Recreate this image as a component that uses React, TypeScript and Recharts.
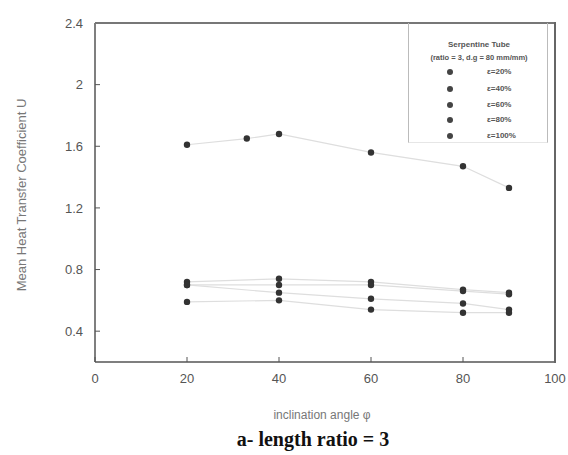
import React from "react";
import { ComposedChart, Scatter, XAxis, YAxis } from "recharts";

const angles = [20, 40, 60, 80, 90];
const s20 = [0.72, 0.74, 0.72, 0.67, 0.65];
const s40 = [0.7, 0.7, 0.7, 0.66, 0.64];
const s60 = [0.7, 0.65, 0.61, 0.58, 0.54];
const s80 = [0.59, 0.6, 0.54, 0.52, 0.52];
const upperAngles = [20, 33, 40, 60, 80, 90];
const s100 = [1.61, 1.65, 1.68, 1.56, 1.47, 1.33];

const xTicks = [0, 20, 40, 60, 80, 100];
const yTicks = [0.4, 0.8, 1.2, 1.6, 2, 2.4];
const legendLabels = ["ε=20%", "ε=40%", "ε=60%", "ε=80%", "ε=100%"];
const legendTitle = ["Serpentine Tube", "(ratio = 3, d.g = 80 mm/mm)"];

const toPts = (xs: number[], ys: number[]) => xs.map((x, i) => ({ x, y: ys[i] }));

const series = [
  { name: legendLabels[0], data: toPts(angles, s20) },
  { name: legendLabels[1], data: toPts(angles, s40) },
  { name: legendLabels[2], data: toPts(angles, s60) },
  { name: legendLabels[3], data: toPts(angles, s80) },
  { name: legendLabels[4], data: toPts(upperAngles, s100) },
];

const font = "'Liberation Sans', Arial, sans-serif";
const tickStyle = { fill: "#555", fontSize: 13, fontFamily: font };

const Dot = (props: any) => {
  const { cx, cy } = props;
  if (cx == null || cy == null) return <g />;
  return <circle cx={cx} cy={cy} r={3.2} fill="#333" />;
};

const Frame = () => (
  <div style={{ position: "absolute", left: 0, top: 0, width: 568, height: 455, pointerEvents: "none" }}>
    <div style={{ position: "absolute", left: 95, top: 22, width: 461, height: 2, background: "#777" }} />
    <div style={{ position: "absolute", left: 554, top: 22, width: 2, height: 341, background: "#666" }} />
  </div>
);

export default function App() {
  return (
    <div style={{ position: "relative", width: 568, height: 455, fontFamily: font }}>
      <style>{`html,body{margin:0;padding:0;overflow:hidden;}`}</style>
      <ComposedChart
        width={568}
        height={455}
        margin={{ top: 23, right: 13, left: 0, bottom: 0 }}
      >
        <XAxis
          type="number"
          dataKey="x"
          domain={[0, 100]}
          ticks={xTicks}
          height={93}
          tickSize={-5}
          tickMargin={17}
          tick={tickStyle}
          stroke="#555"
          axisLine={{ stroke: "#555", strokeWidth: 1.5 }}
          allowDataOverflow
        />
        <YAxis
          type="number"
          dataKey="y"
          domain={[0.2, 2.4]}
          ticks={yTicks}
          width={95}
          tickSize={-5}
          tickMargin={17}
          tick={tickStyle}
          stroke="#555"
          axisLine={{ stroke: "#555", strokeWidth: 1.5 }}
          allowDataOverflow
        />
        {series.map((s) => (
          <Scatter
            key={s.name}
            name={s.name}
            data={s.data}
            fill="#333"
            shape={Dot}
            line={{ stroke: "#dedede", strokeWidth: 1.2 }}
            isAnimationActive={false}
          />
        ))}
      </ComposedChart>

      <Frame />

      {/* Legend */}
      <div
        style={{
          position: "absolute",
          left: 408,
          top: 23,
          width: 140,
          height: 120,
          borderLeft: "1px solid #bbb",
          borderRight: "1px solid #bbb",
          borderBottom: "1px solid #e6e6e6",
          boxSizing: "border-box",
          color: "#555",
          fontSize: 8,
          fontWeight: "bold",
        }}
      >
        <div style={{ position: "absolute", top: 17, left: 0, width: 140, textAlign: "center" }}>
          {legendTitle[0]}
        </div>
        <div style={{ position: "absolute", top: 30, left: 0, width: 140, textAlign: "center", fontSize: 7.5 }}>
          {legendTitle[1]}
        </div>
        {legendLabels.map((l, i) => (
          <div key={l} style={{ position: "absolute", top: 44 + [0, 17, 33, 48, 64][i], left: 0, height: 10, width: 140 }}>
            <div
              style={{
                position: "absolute",
                left: 38,
                top: 2,
                width: 6,
                height: 6,
                borderRadius: 3,
                background: "#444",
              }}
            />
            <div style={{ position: "absolute", left: 78, top: 0, lineHeight: "10px" }}>{l}</div>
          </div>
        ))}
      </div>

      {/* Y label */}
      <div
        style={{
          position: "absolute",
          left: 21,
          top: 195,
          transform: "translate(-50%, -50%) rotate(-90deg)",
          whiteSpace: "nowrap",
          fontSize: 13,
          color: "#777",
        }}
      >
        Mean Heat Transfer Coefficient U
      </div>

      {/* X label */}
      <div
        style={{
          position: "absolute",
          left: 322,
          top: 415,
          transform: "translate(-50%, -50%)",
          whiteSpace: "nowrap",
          fontSize: 12,
          color: "#777",
        }}
      >
        inclination angle φ
      </div>

      {/* Title */}
      <div
        style={{
          position: "absolute",
          left: 313,
          top: 439,
          transform: "translate(-50%, -50%)",
          whiteSpace: "nowrap",
          fontSize: 20,
          fontWeight: "bold",
          fontFamily: "'Liberation Serif', 'Times New Roman', serif",
          color: "#111",
        }}
      >
        a- length ratio = 3
      </div>
    </div>
  );
}
